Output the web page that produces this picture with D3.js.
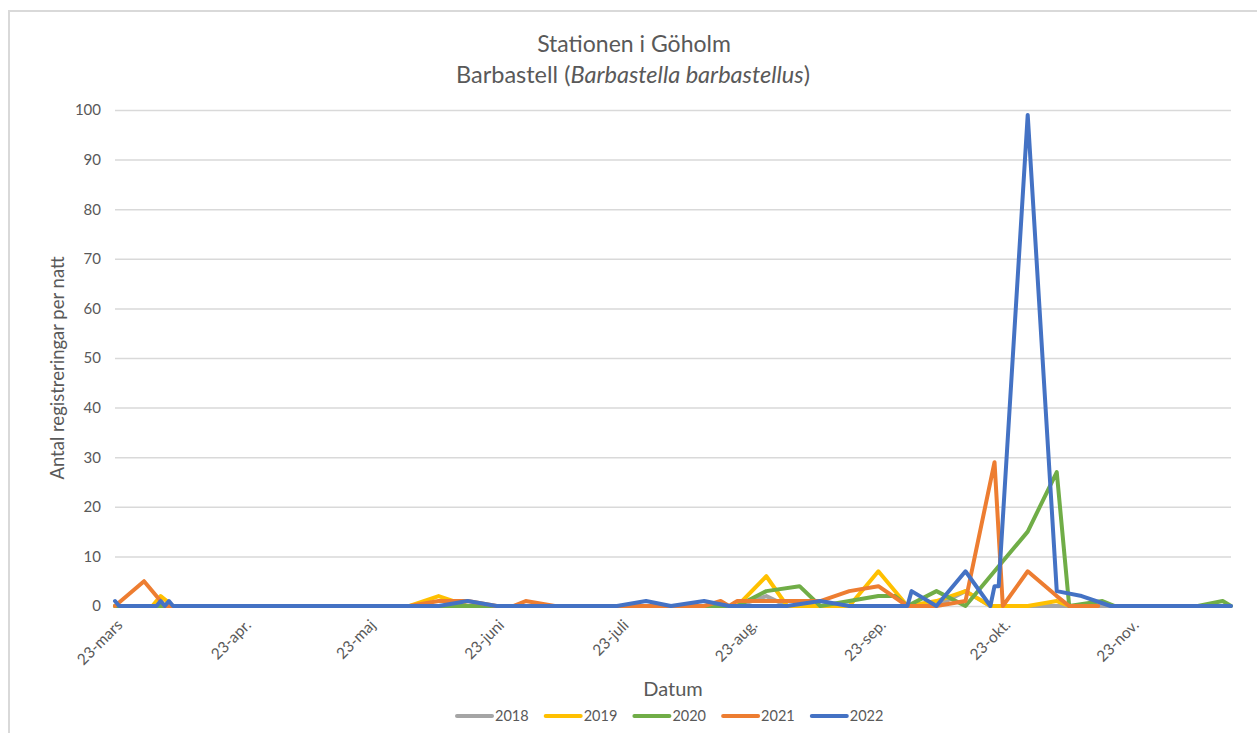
<!DOCTYPE html>
<html>
<head>
<meta charset="utf-8">
<script src="https://cdn.jsdelivr.net/npm/d3@7"></script>
<style>
  html, body { margin: 0; padding: 0; background: #ffffff; }
  svg { display: block; }
  text { font-family: Lato, "Open Sans", sans-serif; fill: #595959; }
</style>
</head>
<body>
<svg id="chart" width="1257" height="733"></svg>
<script>
// Registrations per night, one series per year (dates as MM-DD)
const years = ["2018", "2019", "2020", "2021", "2022"];
const colors = ["#A5A5A5", "#FFC000", "#70AD47", "#ED7D31", "#4472C4"];

const dates2018 = ["03-23", "08-20", "08-27", "09-01", "10-07", "10-14", "10-20", "11-18"];
const vals2018  = [0, 0, 2, 0, 0, 3, 0, 0];

const dates2019 = ["03-23", "04-01", "04-03", "04-06", "06-02", "06-09", "06-16", "08-20", "08-27", "09-01",
                   "09-16", "09-23", "09-30", "10-07", "10-14", "10-20", "10-29", "11-05", "11-08"];
const vals2019  = [0, 0, 2, 0, 0, 2, 0, 0, 6, 0,
                   0, 7, 0, 1, 3, 0, 0, 1, 0];

const dates2020 = ["03-23", "06-16", "08-20", "08-27", "09-04", "09-09", "09-16", "09-23", "09-27", "09-30",
                   "10-07", "10-14", "10-22", "10-29", "11-05", "11-08", "11-16", "11-19", "12-09", "12-15", "12-17"];
const vals2020  = [0, 0, 0, 3, 4, 0, 1, 2, 2, 0,
                   3, 0, 8, 15, 27, 0, 1, 0, 0, 1, 0];

const dates2021 = ["03-23", "03-30", "04-04", "06-02", "06-09", "06-16", "06-23", "06-27", "06-30", "07-07",
                   "08-12", "08-16", "08-18", "08-20", "09-04", "09-09", "09-16", "09-23", "09-30", "10-07",
                   "10-14", "10-21", "10-23", "10-29", "11-05", "11-08", "11-15"];
const vals2021  = [0, 5, 0, 0, 1, 1, 0, 0, 1, 0,
                   0, 1, 0, 1, 1, 1, 3, 4, 0, 0,
                   1, 29, 0, 7, 2, 0, 0];

const dates2022 = ["03-23", "03-24", "04-02", "04-03", "04-04", "04-05", "04-06", "06-09", "06-16", "06-23",
                   "07-22", "07-29", "08-04", "08-12", "08-18", "09-01", "09-09", "09-16", "09-30", "10-01",
                   "10-07", "10-14", "10-20", "10-21", "10-22", "10-29", "11-05", "11-11", "11-18", "12-17"];
const vals2022  = [1, 0, 0, 1, 0, 1, 0, 0, 1, 0,
                   0, 1, 0, 1, 0, 0, 1, 0, 0, 3,
                   0, 7, 0, 4, 4, 99, 3, 2, 0, 0];

const tickDates  = ["03-23", "04-23", "05-23", "06-23", "07-23", "08-23", "09-23", "10-23", "11-23"];
const tickLabels = ["23-mars", "23-apr.", "23-maj", "23-juni", "23-juli", "23-aug.", "23-sep.", "23-okt.", "23-nov."];
const yTicks = [0, 10, 20, 30, 40, 50, 60, 70, 80, 90, 100];

const seriesDates = [dates2018, dates2019, dates2020, dates2021, dates2022];
const seriesVals  = [vals2018, vals2019, vals2020, vals2021, vals2022];

const parseDay = s => { const [m, d] = s.split("-").map(Number); return new Date(2022, m - 1, d); };

const svg = d3.select("#chart");

// outer chart frame
svg.append("rect")
  .attr("x", 9).attr("y", 11).attr("width", 1260).attr("height", 740)
  .attr("fill", "none").attr("stroke", "#d9d9d9").attr("stroke-width", 2);

const plot = { left: 115, right: 1231, top: 110, bottom: 606 };

const x = d3.scaleTime()
  .domain([parseDay("03-23"), parseDay("12-17")])
  .range([plot.left, plot.right]);

const y = d3.scaleLinear()
  .domain([0, 100])
  .range([plot.bottom, plot.top]);

// horizontal gridlines + y labels
const yAxis = d3.axisLeft(y)
  .tickValues(yTicks)
  .tickSize(-(plot.right - plot.left))
  .tickPadding(14);
const gy = svg.append("g").attr("transform", `translate(${plot.left},0)`).call(yAxis);
gy.select(".domain").remove();
gy.selectAll(".tick line").attr("stroke", "#d9d9d9").attr("stroke-width", 1.5);
gy.selectAll(".tick text")
  .attr("font-size", 15)
  .style("font-family", "Lato, sans-serif")
  .attr("fill", "#595959");

// x axis labels, rotated
const xAxis = d3.axisBottom(x)
  .tickValues(tickDates.map(parseDay))
  .tickFormat((d, i) => tickLabels[i])
  .tickSize(0);
const gx = svg.append("g").attr("transform", `translate(0,${plot.bottom})`).call(xAxis);
gx.select(".domain").remove();
gx.selectAll(".tick text")
  .attr("font-size", 15.5)
  .style("font-family", "Lato, sans-serif")
  .attr("fill", "#595959")
  .attr("text-anchor", "end")
  .attr("dy", null)
  .attr("y", 0)
  .attr("transform", "translate(8,20) rotate(-45)");

// series lines
const line = d3.line()
  .x(d => x(d.date))
  .y(d => y(d.value));

years.forEach((yr, i) => {
  const data = seriesDates[i].map((s, j) => ({ date: parseDay(s), value: seriesVals[i][j] }));
  svg.append("path")
    .datum(data)
    .attr("fill", "none")
    .attr("stroke", colors[i])
    .attr("stroke-width", 4)
    .attr("stroke-linejoin", "round")
    .attr("stroke-linecap", "round")
    .attr("d", line);
});

// titles
svg.append("text")
  .attr("x", 634).attr("y", 52)
  .attr("text-anchor", "middle").attr("font-size", 23)
  .text("Stationen i Göholm");
const t2 = svg.append("text")
  .attr("x", 633).attr("y", 83)
  .attr("text-anchor", "middle").attr("font-size", 23.5);
t2.append("tspan").text("Barbastell (");
t2.append("tspan").attr("font-style", "italic").text("Barbastella barbastellus");
t2.append("tspan").text(")");

// axis titles
svg.append("text")
  .attr("transform", "translate(64,368) rotate(-90)")
  .attr("text-anchor", "middle").attr("font-size", 18.5)
  .text("Antal registreringar per natt");
svg.append("text")
  .attr("x", 673).attr("y", 696)
  .attr("text-anchor", "middle").attr("font-size", 20)
  .text("Datum");

// legend
const legend = svg.append("g");
years.forEach((yr, i) => {
  const lx = 457 + i * 88.7;
  legend.append("line")
    .attr("x1", lx).attr("x2", lx + 35)
    .attr("y1", 716).attr("y2", 716)
    .attr("stroke", colors[i]).attr("stroke-width", 4)
    .attr("stroke-linecap", "round");
  legend.append("text")
    .attr("x", lx + 38).attr("y", 721)
    .attr("font-size", 14.5)
    .text(yr);
});
</script>
</body>
</html>
